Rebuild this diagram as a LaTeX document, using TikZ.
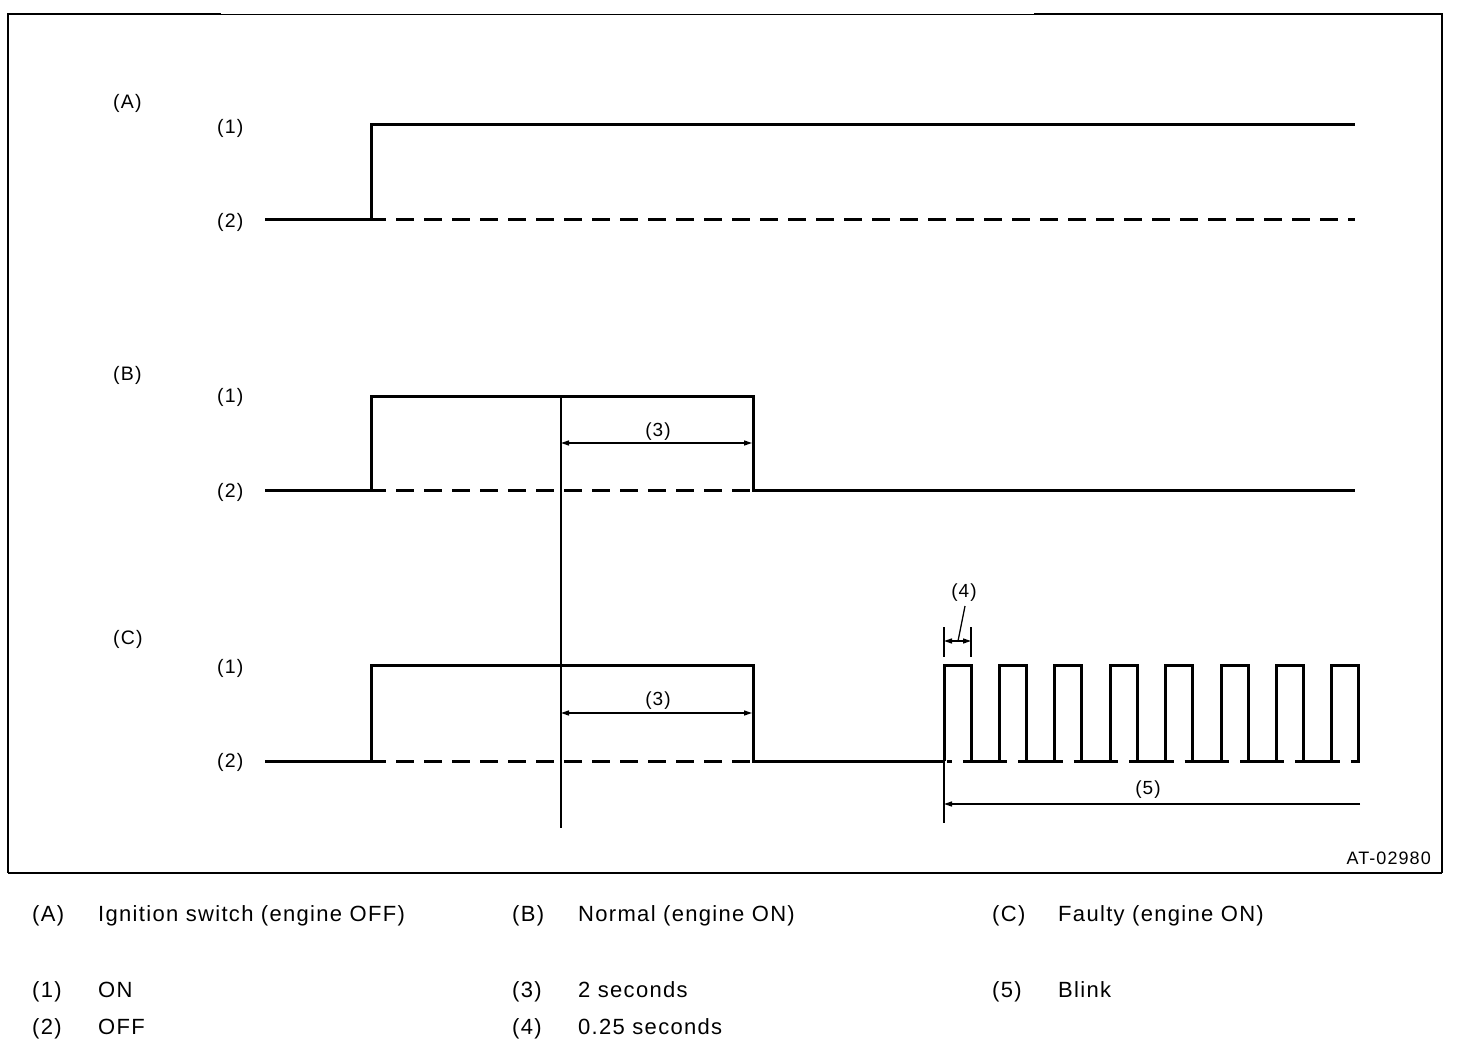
\documentclass[tikz,border=0pt]{standalone}
\usepackage{fontspec}
\setmainfont{Liberation Sans}[LetterSpace=6]
\usetikzlibrary{arrows.meta}
\begin{document}
\begin{tikzpicture}[x=1pt,y=-1pt,
  sig/.style={line width=3pt},
  sigdash/.style={line width=3pt, dash pattern=on 18pt off 10pt, dash phase=3pt},
  thinline/.style={line width=1.3pt},
  tipa/.tip={Triangle[length=8pt,width=5pt]},
  dimline/.style={line width=1.3pt, tipa-tipa},
  lab/.style={font=\fontsize{19.5}{23}\selectfont, inner sep=0pt, anchor=west},
  clab/.style={font=\fontsize{19}{22}\selectfont, inner sep=0pt},
  leg/.style={font=\fontsize{22}{26}\selectfont, inner sep=0pt, anchor=base west}]
\useasboundingbox (0,0) rectangle (1472,1056);
\fill[white] (0,0) rectangle (1472,1056);
% frame
\draw[line width=1.8pt] (221,14) -- (8,14) -- (8,873);
\draw[line width=1.3pt] (8,873) -- (1442,873);
\draw[line width=1.8pt] (1442,873) -- (1442,14) -- (1034,14);
\draw[line width=0.8pt] (221,14) -- (1034,14);
% labels in the diagram
\node[lab] (lA) at (113,103) {(A)};
\node[lab] (lA1) at (217,128) {(1)};
\node[lab] (lA2) at (217,222) {(2)};
\node[lab] (lB) at (113,375) {(B)};
\node[lab] (lB1) at (217,397) {(1)};
\node[lab] (lB2) at (217,492) {(2)};
\node[lab] (lC) at (113,639) {(C)};
\node[lab] (lC1) at (217,668) {(1)};
\node[lab] (lC2) at (217,762) {(2)};
% signal A
\draw[sig] (265,220) -- (371,220) -- (371,125) -- (1355,125);
\draw[sigdash] (371,220) -- (1355,220);
% signal B
\draw[sig] (265,490) -- (371,490) -- (371,396) -- (753,396) -- (753,490) -- (1355,490);
\draw[sigdash] (371,490) -- (753,490);
% signal C
\draw[sig] (265,761) -- (371,761) -- (371,665) -- (753,665) -- (753,761) -- (944,761);
\draw[sigdash] (371,761) -- (753,761);
\foreach \k in {0,...,7}{
  \draw[sig] ({944+55.4*\k},761) -- ({944+55.4*\k},665) -- ({971+55.4*\k},665) -- ({971+55.4*\k},761);
}
\foreach \k in {1,...,7}{
  \draw[sig] ({944+55.4*(\k-1)+19},761) -- ({944+55.4*\k+8},761);
}
\draw[sig] (947,761) -- (952,761);
\draw[sig] ({944+55.4*7+19},761) -- (1360,761);
% vertical reference line
\draw[thinline] (561,396) -- (561,828);
% (3) dimensions
\draw[dimline] (561,443) -- (752,443);
\node[clab] (l3a) at (658,432) {(3)};
\draw[dimline] (561,713) -- (752,713);
\node[clab] (l3b) at (658,701) {(3)};
% (4) dimension
\draw[thinline] (944,627) -- (944,657);
\draw[thinline] (971,627) -- (971,657);
\draw[dimline] (944,641) -- (971,641);
\node[clab] (l4) at (964,593) {(4)};
\draw[thinline] (965,606) -- (958,641);
% (5) dimension
\draw[thinline] (944,761) -- (944,823);
\draw[thinline, -tipa] (1360,804) -- (944,804);
\node[clab] (l5) at (1148,790) {(5)};
% drawing number
\node[clab, anchor=east, font=\fontsize{18}{21}\selectfont] (num) at (1431,858) {AT-02980};
% legend
\node[leg] (gA) at (32,921) {(A)};
\node[leg] (gAt) at (98,921) {Ignition switch (engine OFF)};
\node[leg] (gB) at (512,921) {(B)};
\node[leg] (gBt) at (578,921) {Normal (engine ON)};
\node[leg] (gC) at (992,921) {(C)};
\node[leg] (gCt) at (1058,921) {Faulty (engine ON)};
\node[leg] (g1) at (32,997) {(1)};
\node[leg] (g1t) at (98,997) {ON};
\node[leg] (g3) at (512,997) {(3)};
\node[leg] (g3t) at (578,997) {2 seconds};
\node[leg] (g5) at (992,997) {(5)};
\node[leg] (g5t) at (1058,997) {Blink};
\node[leg] (g2) at (32,1034) {(2)};
\node[leg] (g2t) at (98,1034) {OFF};
\node[leg] (g4) at (512,1034) {(4)};
\node[leg] (g4t) at (578,1034) {0.25 seconds};
\end{tikzpicture}
\end{document}
